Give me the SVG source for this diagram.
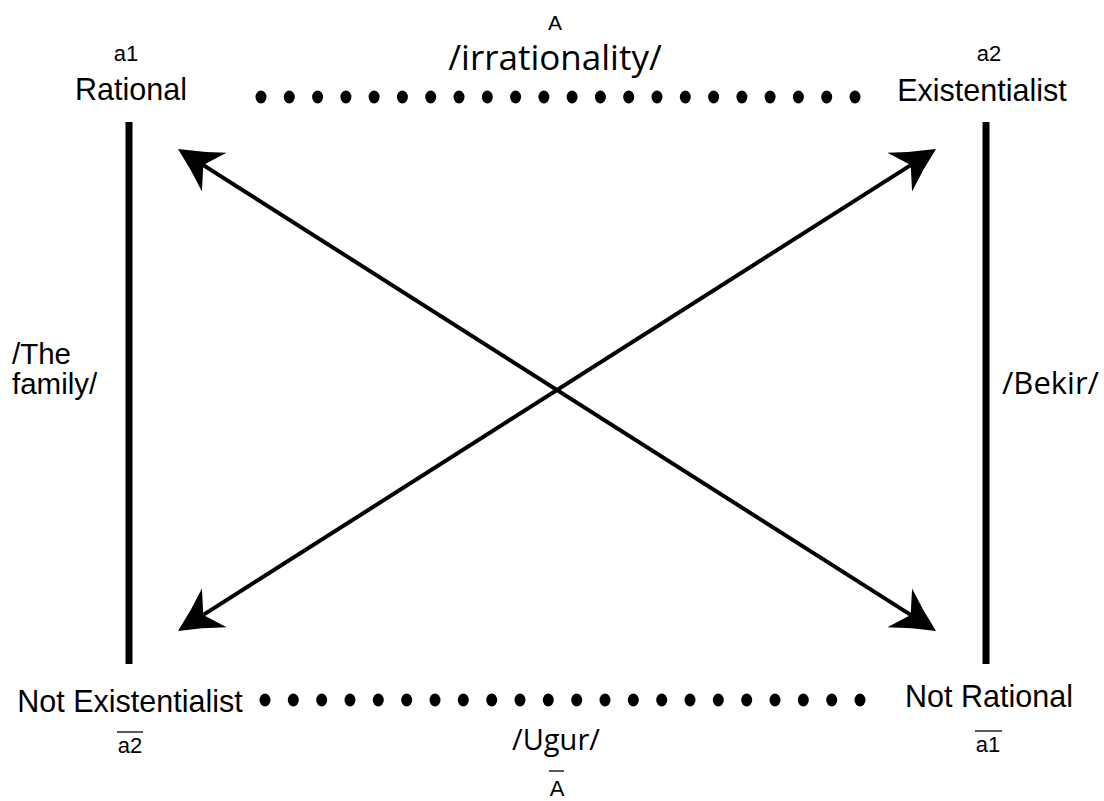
<svg xmlns="http://www.w3.org/2000/svg" width="1104" height="801" viewBox="0 0 1104 801">
  <style>
    .lbl { font-family: "Liberation Sans", Arial, sans-serif; fill: #000; }
    .big { font-size: 30.5px; }
    .sub { font-size: 22px; }
    .side { font-size: 29.5px; }
    .slash { font-family: "Open Sans", "Liberation Sans", sans-serif; fill: #000; }
    .bar { stroke: #000; stroke-width: 7; }
    .diag { stroke: #000; stroke-width: 4; fill: none; marker-start: url(#head); marker-end: url(#head); }
    .over { stroke: #000; stroke-width: 1.3; }
    .dot { fill: #000; }
  </style>
  <defs>
    <marker id="head" viewBox="-46 -26 50 52" refX="-30" refY="0" markerWidth="50" markerHeight="52" markerUnits="userSpaceOnUse" orient="auto-start-reverse">
      <path d="M0,0 Q-22,-10 -43,-23 L-30,0 L-43,23 Q-22,10 0,0 Z" fill="#000"/>
    </marker>
    <ellipse id="d" rx="5.5" ry="6.5"/>
  </defs>

  <!-- corner a1 : Rational -->
  <g id="node-rational">
    <text class="lbl sub" x="126" y="61" text-anchor="middle">a1</text>
    <text class="lbl big" x="131" y="100" text-anchor="middle">Rational</text>
  </g>

  <!-- corner a2 : Existentialist -->
  <g id="node-existentialist">
    <text class="lbl sub" x="989" y="61" text-anchor="middle">a2</text>
    <text class="lbl big" x="982" y="101" text-anchor="middle">Existentialist</text>
  </g>

  <!-- corner not a2 -->
  <g id="node-not-existentialist">
    <text class="lbl big" x="130" y="712" text-anchor="middle">Not Existentialist</text>
    <line class="over" x1="117" y1="732" x2="143" y2="732"/>
    <text class="lbl sub" x="130" y="753" text-anchor="middle">a2</text>
  </g>

  <!-- corner not a1 -->
  <g id="node-not-rational">
    <text class="lbl big" x="989" y="707" text-anchor="middle">Not Rational</text>
    <line class="over" x1="975" y1="731" x2="1002" y2="731"/>
    <text class="lbl sub" x="988" y="752" text-anchor="middle">a1</text>
  </g>

  <!-- top axis label -->
  <g id="label-top">
    <text class="lbl" font-size="21" x="555" y="30" text-anchor="middle">A</text>
    <text class="slash" font-size="35" x="555" y="70" text-anchor="middle">/irrationality/</text>
  </g>

  <!-- bottom axis label -->
  <g id="label-bottom">
    <text class="slash" font-size="29" x="556" y="750" text-anchor="middle">/Ugur/</text>
    <line class="over" x1="549" y1="771" x2="564" y2="771"/>
    <text class="lbl" font-size="22" x="557" y="796" text-anchor="middle">A</text>
  </g>

  <!-- left side label -->
  <g id="label-left">
    <text class="lbl side" x="12" y="364">/The</text>
    <text class="lbl side" x="12" y="394">family/</text>
  </g>

  <!-- right side label -->
  <g id="label-right">
    <text class="slash" font-size="31" x="1002" y="394">/Bekir/</text>
  </g>

  <g id="connectors">
    <!-- solid verticals -->
    <line class="bar" x1="129" y1="122" x2="129" y2="664"/>
    <line class="bar" x1="986" y1="122" x2="986" y2="664"/>

    <!-- dotted top row -->
    <g class="dot">
      <use href="#d" x="261" y="97"/><use href="#d" x="289.3" y="97"/><use href="#d" x="317.6" y="97"/><use href="#d" x="345.9" y="97"/>
      <use href="#d" x="374.1" y="97"/><use href="#d" x="402.4" y="97"/><use href="#d" x="430.7" y="97"/><use href="#d" x="459" y="97"/>
      <use href="#d" x="487.3" y="97"/><use href="#d" x="515.6" y="97"/><use href="#d" x="543.9" y="97"/><use href="#d" x="572.1" y="97"/>
      <use href="#d" x="600.4" y="97"/><use href="#d" x="628.7" y="97"/><use href="#d" x="657" y="97"/><use href="#d" x="685.3" y="97"/>
      <use href="#d" x="713.6" y="97"/><use href="#d" x="741.9" y="97"/><use href="#d" x="770.1" y="97"/><use href="#d" x="798.4" y="97"/>
      <use href="#d" x="826.7" y="97"/><use href="#d" x="855" y="97"/>
    </g>

    <!-- dotted bottom row -->
    <g class="dot">
      <use href="#d" x="265" y="700"/><use href="#d" x="293.3" y="700"/><use href="#d" x="321.7" y="700"/><use href="#d" x="350" y="700"/>
      <use href="#d" x="378.3" y="700"/><use href="#d" x="406.7" y="700"/><use href="#d" x="435" y="700"/><use href="#d" x="463.3" y="700"/>
      <use href="#d" x="491.7" y="700"/><use href="#d" x="520" y="700"/><use href="#d" x="548.3" y="700"/><use href="#d" x="576.7" y="700"/>
      <use href="#d" x="605" y="700"/><use href="#d" x="633.3" y="700"/><use href="#d" x="661.7" y="700"/><use href="#d" x="690" y="700"/>
      <use href="#d" x="718.3" y="700"/><use href="#d" x="746.7" y="700"/><use href="#d" x="775" y="700"/><use href="#d" x="803.3" y="700"/>
      <use href="#d" x="831.7" y="700"/><use href="#d" x="860" y="700"/>
    </g>

    <!-- diagonals with arrowheads at both ends -->
    <path class="diag" d="M203.3,165.1 L910.7,614.9"/>
    <path class="diag" d="M910.7,165.1 L203.3,614.9"/>
  </g>
</svg>
